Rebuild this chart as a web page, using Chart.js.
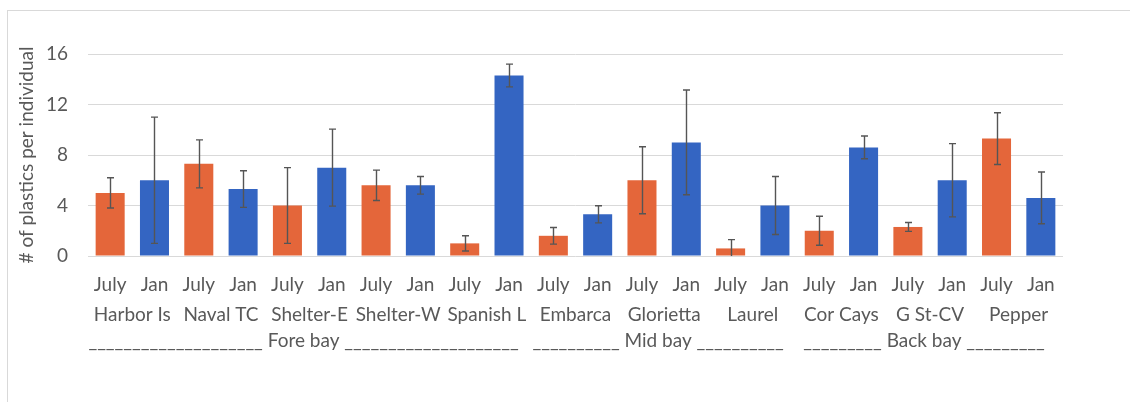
<!DOCTYPE html>
<html>
<head>
<meta charset="utf-8">
<script src="https://cdn.jsdelivr.net/npm/chart.js@4.4.1/dist/chart.umd.min.js"></script>
<style>
  html, body { margin: 0; padding: 0; background: #fff; }
  #wrap { width: 1130px; height: 402px; position: relative; }
</style>
</head>
<body>
<div id="wrap"><canvas id="chart" width="1130" height="402"></canvas></div>
<script>
// Sampling sites, ordered from the mouth of the bay inward
const sites = ['Harbor Is', 'Naval TC', 'Shelter-E', 'Shelter-W', 'Spanish L',
               'Embarca', 'Glorietta', 'Laurel', 'Cor Cays', 'G St-CV', 'Pepper'];
const seasons = ['July', 'Jan'];

// Mean plastics per individual and error (±) for each season
const julyMean = [5.0, 7.3, 4.0, 5.6, 1.0, 1.6, 6.0, 0.6, 2.0, 2.3, 9.3];
const julyErr  = [1.2, 1.9, 3.0, 1.2, 0.6, 0.66, 2.65, 0.7, 1.15, 0.35, 2.05];
const janMean  = [6.0, 5.3, 7.0, 5.6, 14.3, 3.3, 9.0, 4.0, 8.6, 6.0, 4.6];
const janErr   = [5.0, 1.45, 3.05, 0.7, 0.9, 0.68, 4.15, 2.3, 0.9, 2.9, 2.05];

// Bay regions and how many sites each contains
const bays = ['Fore bay', 'Mid bay', 'Back bay'];
const baySiteCount = [5, 3, 3];

const yTicks = [0, 4, 8, 12, 16];

// Styling
const FONT = { family: 'Lato, Carlito, Calibri, "Open Sans", sans-serif', size: 19 };
const TEXT = '#595959';
const JULY_COLOR = '#E4663A';
const JAN_COLOR = '#3465C2';

// One bar per site and season: July then Jan
const barLabels = [], barMeans = [], barErrs = [], barColors = [];
sites.forEach((s, i) => {
  barLabels.push(seasons[0]); barMeans.push(julyMean[i]); barErrs.push(julyErr[i]); barColors.push(JULY_COLOR);
  barLabels.push(seasons[1]); barMeans.push(janMean[i]);  barErrs.push(janErr[i]);  barColors.push(JAN_COLOR);
});

// Light frame around the figure
const framePlugin = {
  id: 'frame',
  beforeDraw(chart) {
    const ctx = chart.ctx;
    ctx.save();
    ctx.fillStyle = '#fff';
    ctx.fillRect(0, 0, chart.width, chart.height);
    ctx.strokeStyle = '#d9d9d9';
    ctx.lineWidth = 1;
    ctx.strokeRect(7.5, 10.5, chart.width + 20, chart.height + 20);
    ctx.restore();
  }
};

// Vertical error bars with caps, from the y scale
const errorBarPlugin = {
  id: 'errorBars',
  afterDatasetsDraw(chart) {
    const { ctx, chartArea: a, scales: { y } } = chart;
    const meta = chart.getDatasetMeta(0);
    ctx.save();
    ctx.beginPath();
    ctx.rect(a.left, a.top - 2, a.right - a.left, a.bottom - a.top + 2);
    ctx.clip();
    ctx.strokeStyle = '#555555';
    ctx.lineWidth = 1.4;
    const cap = 3.5;
    meta.data.forEach((bar, i) => {
      const x = Math.round(bar.x) + 0.5;
      const hi = y.getPixelForValue(barMeans[i] + barErrs[i]);
      const lo = y.getPixelForValue(barMeans[i] - barErrs[i]);
      ctx.beginPath();
      ctx.moveTo(x, hi); ctx.lineTo(x, lo);
      ctx.moveTo(x - cap, hi); ctx.lineTo(x + cap, hi);
      ctx.moveTo(x - cap, lo); ctx.lineTo(x + cap, lo);
      ctx.stroke();
    });
    ctx.restore();
  }
};

// Bay region captions with underscore rules under the site names
const bayRowPlugin = {
  id: 'bayRow',
  afterDraw(chart) {
    const { ctx, scales: { x, sites: siteAxis } } = chart;
    const baseline = siteAxis.bottom + 20;
    ctx.save();
    ctx.font = `${FONT.size}px ${FONT.family}`;
    ctx.fillStyle = TEXT;
    ctx.textBaseline = 'alphabetic';
    const uw = ctx.measureText('_').width;
    let first = 0;
    bays.forEach((name, b) => {
      const last = first + baySiteCount[b] * 2 - 1;
      const left = x.getPixelForValue(first - 0.5) + 2;
      const right = x.getPixelForValue(last + 0.5) - 14;
      const mid = (left + right) / 2;
      const label = ' ' + name + ' ';
      const lw = ctx.measureText(label).width;
      const side = (right - left - lw) / 2;
      const rule = '_'.repeat(Math.max(1, Math.round(side / uw)));
      ctx.textAlign = 'center';
      ctx.fillText(label, mid, baseline);
      ctx.textAlign = 'right';
      ctx.fillText(rule, mid - lw / 2, baseline);
      ctx.textAlign = 'left';
      ctx.fillText(rule, mid + lw / 2, baseline);
      first = last + 1;
    });
    ctx.restore();
  }
};

new Chart(document.getElementById('chart'), {
  type: 'bar',
  data: {
    labels: barLabels,
    datasets: [{
      data: barMeans,
      backgroundColor: barColors,
      borderWidth: 0,
      barPercentage: 0.655,
      categoryPercentage: 1
    }]
  },
  options: {
    responsive: false,
    animation: false,
    devicePixelRatio: 1,
    layout: { padding: { top: 54, right: 67, bottom: 75, left: 0 } },
    plugins: { legend: { display: false }, tooltip: { enabled: false } },
    scales: {
      x: {
        grid: { display: false, drawTicks: false },
        border: { display: false },
        ticks: { color: TEXT, font: FONT, padding: 17, maxRotation: 0, autoSkip: false },
        afterFit(s) { s.height = 41; }
      },
      sites: {
        type: 'category',
        labels: sites,
        position: 'bottom',
        offset: true,
        grid: { display: false, drawTicks: false },
        border: { display: false },
        ticks: { color: TEXT, font: FONT, padding: 6, maxRotation: 0, autoSkip: false },
        afterFit(s) { s.height = 30; }
      },
      y: {
        min: 0,
        max: 16,
        afterBuildTicks(s) { s.ticks = yTicks.map(v => ({ value: v })); },
        ticks: { color: TEXT, font: FONT, padding: 20 },
        grid: { color: '#d9d9d9', lineWidth: 1, drawTicks: false },
        border: { display: false },
        title: {
          display: true,
          text: '# of plastics per individual',
          color: TEXT,
          font: FONT,
          padding: { top: 15, bottom: 0 }
        },
        afterFit(s) { s.width = 88; }
      }
    }
  },
  plugins: [framePlugin, errorBarPlugin, bayRowPlugin]
});
</script>
</body>
</html>
